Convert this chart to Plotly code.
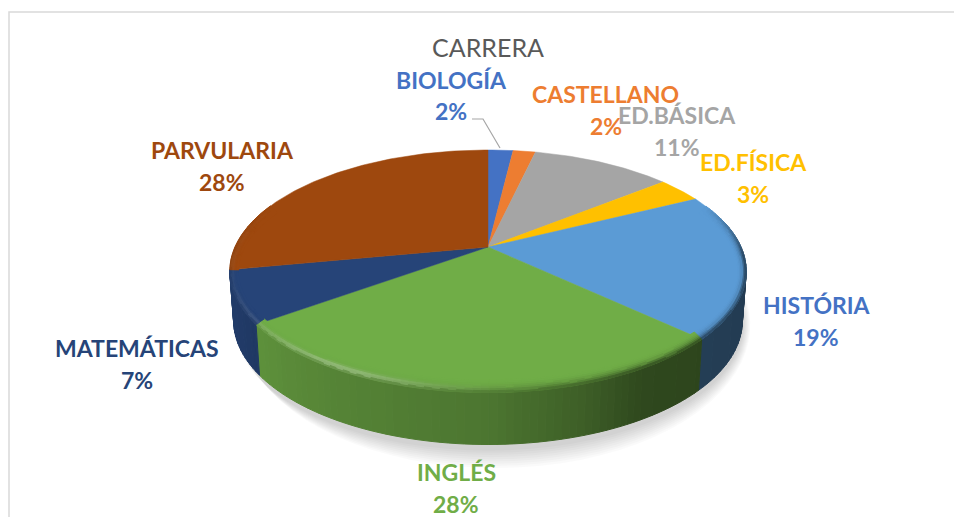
import math
from collections import OrderedDict
import plotly.graph_objects as go

# ---- data ----
categories = ["BIOLOGÍA", "CASTELLANO", "ED.BÁSICA", "ED.FÍSICA", "HISTÓRIA", "INGLÉS", "MATEMÁTICAS", "PARVULARIA"]
shares = [1.9, 1.7, 10.6, 3.4, 19.4, 28.0, 7.0, 28.0]
colors = ["#4472C4", "#ED7D31", "#A5A5A5", "#FFC000", "#5B9BD5", "#70AD47", "#264478", "#9E480E"]
label_colors = ["#4472C4", "#ED7D31", "#A5A5A5", "#FFC000", "#4472C4", "#70AD47", "#264478", "#9E480E"]
title_text = "CARRERA"

# ---- label placement (pixels) ----
name_xy = [(451, 80), (605, 94), (677, 115), (753, 162), (817, 305), (456, 472), (137, 348), (222, 150)]
pct_xy = [(451, 111), (606, 126), (677, 147), (753, 194), (816, 337), (456, 504), (137, 380), (222, 182)]

# ---- projection of the tilted pie ----
CX, CY = 488, 247
K, A, B = 0.2, 253.0, 116.4
ELL_DY = 24.5


def project(theta):
    u, v = math.sin(theta), -math.cos(theta)
    w = 1 - K * v
    return A * u / w, B * v / w, u, v


def lerp_pts(pts, val):
    for (a, fa), (b, fb) in zip(pts, pts[1:]):
        if a <= val <= b:
            return fa + (fb - fa) * (val - a) / (b - a)
    return pts[-1][1] if val > pts[-1][0] else pts[0][1]


WALL = [(-1, .88), (-.5, .76), (0, .68), (.3, .55), (.5, .42), (1, .38)]


def rgb(hexc):
    return tuple(int(hexc[i:i + 2], 16) for i in (1, 3, 5))


def shade(hexc, f, white=0.0):
    f = round(f * 160) / 160
    white = round(white * 80) / 80
    out = []
    for c in rgb(hexc):
        x = c * f
        x = x + (255 - x) * white
        out.append(int(min(255, round(x))))
    return "rgb(%d,%d,%d)" % tuple(out)


def bevel_pt(theta, t):
    # t = 0 on the inner edge of the bevel, t = 1 on the rim
    X, Y, _, _ = project(theta)
    Ye = Y - ELL_DY
    return CX + X * (1 - 9 * (1 - t) / 258), CY + ELL_DY + Ye * (1 - 13 * (1 - t) / 122)


def wall_pt(theta):
    X, Y, _, v = project(theta)
    return CX + X * 0.985, CY + Y + 49 + 3 * v


fig = go.Figure()


def add_groups(groups):
    for col, (xs, ys) in groups.items():
        fig.add_trace(go.Scatter(x=xs, y=ys, mode="lines", fill="toself", fillcolor=col,
                                 line=dict(color=col, width=1), hoverinfo="skip", showlegend=False))


def push(groups, col, poly):
    xs, ys = groups.setdefault(col, ([], []))
    for px, py in poly:
        xs.append(px)
        ys.append(py)
    xs.append(poly[0][0])
    ys.append(poly[0][1])
    xs.append(None)
    ys.append(None)


# soft shadow under the pie
for i in range(9, 0, -1):
    pts = []
    for d in range(0, 360, 4):
        X, Y, _, v = project(math.radians(d))
        pts.append((CX + X * 0.985 + 2 * (i / 9) * 4, CY + (Y - ELL_DY) * (1 + i * 0.018) + ELL_DY + 53 + 3 * v))
    fig.add_trace(go.Scatter(x=[p[0] for p in pts] + [pts[0][0]], y=[p[1] for p in pts] + [pts[0][1]],
                             mode="lines", fill="toself", fillcolor="rgba(0,0,0,0.018)",
                             line=dict(width=0), hoverinfo="skip", showlegend=False))

total = sum(shares)
edges = [0.0]
for s in shares:
    edges.append(edges[-1] + s / total * 2 * math.pi)

# side wall
walls = OrderedDict()
for i, col in enumerate(colors):
    a0, a1 = edges[i], edges[i + 1]
    n = max(2, int(math.degrees(a1 - a0) / 1.5))
    for j in range(n):
        t0 = a0 + (a1 - a0) * j / n
        t1 = a0 + (a1 - a0) * (j + 1) / n
        tm = (t0 + t1) / 2
        _, _, u, v = project(tm)
        if v < -0.25 or (u < 0 and v < 0.185):
            continue
        f = lerp_pts(WALL, u)
        x0, y0, _, _ = project(t0)
        x1, y1, _, _ = project(t1)
        poly = [(CX + x0, CY + y0), (CX + x1, CY + y1), wall_pt(t1), wall_pt(t0)]
        push(walls, shade(col, f), poly)
add_groups(walls)

# top face
for i, col in enumerate(colors):
    a0, a1 = edges[i], edges[i + 1]
    n = max(3, int(math.degrees(a1 - a0)))
    xs, ys = [CX], [CY]
    for j in range(n + 1):
        th = a0 + (a1 - a0) * j / n
        X, Y, _, _ = project(th)
        xs.append(CX + X)
        ys.append(CY + Y)
    xs.append(CX)
    ys.append(CY)
    fig.add_trace(go.Scatter(x=xs, y=ys, mode="lines", fill="toself", fillcolor=col,
                             line=dict(color=col, width=0.5), hoverinfo="skip", showlegend=False))

# rounded bevel along the rim
bevel = OrderedDict()
STEPS = 7
for i, col in enumerate(colors):
    a0, a1 = edges[i], edges[i + 1]
    n = max(2, int(math.degrees(a1 - a0) / 1.5))
    for j in range(n):
        t0 = a0 + (a1 - a0) * j / n
        t1 = a0 + (a1 - a0) * (j + 1) / n
        tm = (t0 + t1) / 2
        _, _, u, v = project(tm)
        wgt = max(0.0, min(1.0, (v + 0.38) / 0.45))
        if wgt <= 0:
            continue
        wf = lerp_pts(WALL, u)
        for s in range(STEPS):
            r0, r1 = s / STEPS, (s + 1) / STEPS
            rm = (r0 + r1) / 2
            dark = wgt * rm ** 2.6
            f = 1 + (wf - 1) * dark
            hl = 0.0
            if u < 0.25:
                hl = wgt * 0.30 * math.exp(-((u + 0.5) / 0.35) ** 2) * math.exp(-((rm - 0.72) / 0.2) ** 2)
            poly = [bevel_pt(t0, r0), bevel_pt(t1, r0), bevel_pt(t1, r1), bevel_pt(t0, r1)]
            push(bevel, shade(col, f, hl), poly)
add_groups(bevel)

# leader line for the first label
fig.add_trace(go.Scatter(x=[472, 483, 500], y=[119, 119, 148], mode="lines",
                         line=dict(color="#A6A6A6", width=1.2), hoverinfo="skip", showlegend=False))
# chart frame
fig.add_trace(go.Scatter(x=[9, 9, 954], y=[517, 12, 12], mode="lines",
                         line=dict(color="#D9D9D9", width=1.5), hoverinfo="skip", showlegend=False))

FONT = "Lato, Carlito, Calibri, sans-serif"
ann = []
for i, name in enumerate(categories):
    lc = label_colors[i]
    ann.append(dict(x=name_xy[i][0], y=name_xy[i][1], text="<b>%s</b>" % name, showarrow=False,
                    xanchor="center", yanchor="middle", font=dict(family=FONT, size=23, color=lc)))
    ann.append(dict(x=pct_xy[i][0], y=pct_xy[i][1], text="<b>%d%%</b>" % round(shares[i]), showarrow=False,
                    xanchor="center", yanchor="middle", font=dict(family=FONT, size=23, color=lc)))

fig.update_layout(
    width=954, height=517, margin=dict(l=0, r=0, t=0, b=0),
    paper_bgcolor="white", plot_bgcolor="white", showlegend=False,
    title=dict(text=title_text, x=488 / 954, y=1 - 48 / 517, xanchor="center", yanchor="middle",
               font=dict(family=FONT, size=25, color="#595959")),
    xaxis=dict(range=[0, 954], visible=False, fixedrange=True),
    yaxis=dict(range=[517, 0], visible=False, fixedrange=True),
    annotations=ann,
)
fig.write_html("out.html", config={"displayModeBar": False},
               post_script="document.body.style.margin='0';document.body.style.overflow='hidden';")
